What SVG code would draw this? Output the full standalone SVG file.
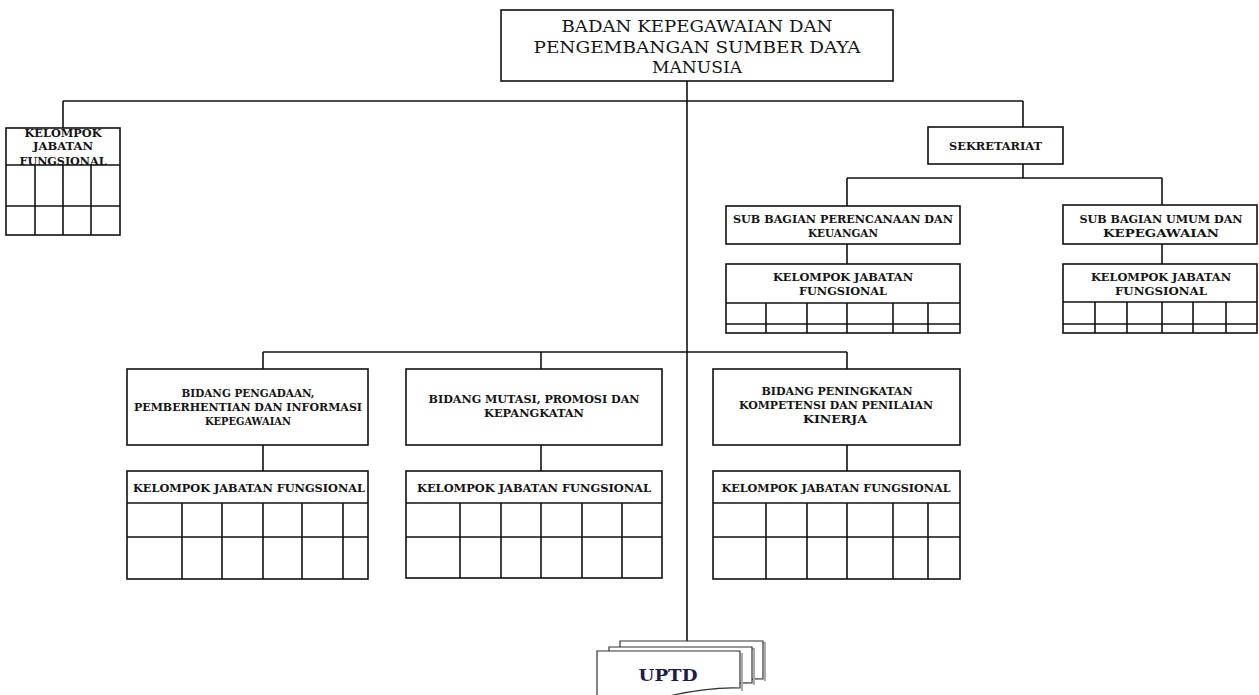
<svg xmlns="http://www.w3.org/2000/svg" width="1259" height="695" viewBox="0 0 1259 695">
<style>
.bx{fill:#fff;stroke:#111;stroke-width:1.6}
.ln{fill:none;stroke:#111;stroke-width:1.6}
.t{font-family:"DejaVu Serif","Liberation Serif",serif;fill:#151515;text-anchor:middle;lengthAdjust:spacingAndGlyphs}
.big{font-size:16.5px}
.sm{font-size:10.5px;font-weight:bold;letter-spacing:0}
.doc{fill:#fff;stroke:#333;stroke-width:1.2}
.sh{fill:none;stroke:#aaa;stroke-width:2}
</style>
<rect width="1259" height="695" fill="#fff"/>

<g id="connectors" class="ln">
  <line x1="687" y1="81" x2="687" y2="641"/>
  <line x1="63" y1="101" x2="1023" y2="101"/>
  <line x1="63" y1="101" x2="63" y2="128"/>
  <line x1="1023" y1="101" x2="1023" y2="127"/>
  <line x1="1023" y1="164" x2="1023" y2="178"/>
  <line x1="847" y1="178" x2="1162" y2="178"/>
  <line x1="847" y1="178" x2="847" y2="206"/>
  <line x1="1162" y1="178" x2="1162" y2="205"/>
  <line x1="847" y1="244" x2="847" y2="264"/>
  <line x1="1162" y1="244" x2="1162" y2="264"/>
  <line x1="263" y1="352" x2="847" y2="352"/>
  <line x1="263" y1="352" x2="263" y2="369"/>
  <line x1="541" y1="352" x2="541" y2="369"/>
  <line x1="847" y1="352" x2="847" y2="369"/>
  <line x1="263" y1="445" x2="263" y2="471"/>
  <line x1="541" y1="445" x2="541" y2="471"/>
  <line x1="847" y1="445" x2="847" y2="471"/>
</g>

<g id="badan">
  <rect class="bx" x="501" y="10" width="392" height="71"/>
  <text class="t big" x="697" y="32" textLength="271" lengthAdjust="spacingAndGlyphs">BADAN KEPEGAWAIAN DAN</text>
  <text class="t big" x="697" y="53" textLength="327" lengthAdjust="spacingAndGlyphs">PENGEMBANGAN SUMBER DAYA</text>
  <text class="t big" x="697" y="73" textLength="90" lengthAdjust="spacingAndGlyphs">MANUSIA</text>
</g>

<g id="kjf-left">
  <rect class="bx" x="6" y="128" width="114" height="107"/>
  <g class="ln">
    <line x1="6" y1="165" x2="120" y2="165"/>
    <line x1="6" y1="206" x2="120" y2="206"/>
    <line x1="35" y1="165" x2="35" y2="235"/>
    <line x1="63" y1="165" x2="63" y2="235"/>
    <line x1="91" y1="165" x2="91" y2="235"/>
  </g>
  <text class="t sm" x="63" y="137" textLength="77" lengthAdjust="spacingAndGlyphs">KELOMPOK</text>
  <text class="t sm" x="63" y="150" textLength="60" lengthAdjust="spacingAndGlyphs">JABATAN</text>
  <text class="t sm" x="63" y="165" textLength="87" lengthAdjust="spacingAndGlyphs">FUNGSIONAL</text>
</g>

<g id="sekretariat">
  <rect class="bx" x="928" y="127" width="135" height="37"/>
  <text class="t sm" x="995.5" y="150" textLength="93" lengthAdjust="spacingAndGlyphs">SEKRETARIAT</text>
</g>

<g id="sub-perencanaan">
  <rect class="bx" x="726" y="206" width="234" height="38"/>
  <text class="t sm" x="843" y="223" textLength="220" lengthAdjust="spacingAndGlyphs">SUB BAGIAN PERENCANAAN DAN</text>
  <text class="t sm" x="843" y="237" textLength="70" lengthAdjust="spacingAndGlyphs">KEUANGAN</text>
</g>

<g id="kjf-perencanaan">
  <rect class="bx" x="726" y="264" width="234" height="69"/>
  <g class="ln">
    <line x1="726" y1="303" x2="960" y2="303"/>
    <line x1="726" y1="324" x2="960" y2="324"/>
    <line x1="766" y1="303" x2="766" y2="333"/>
    <line x1="807" y1="303" x2="807" y2="333"/>
    <line x1="847" y1="303" x2="847" y2="333"/>
    <line x1="893" y1="303" x2="893" y2="333"/>
    <line x1="928" y1="303" x2="928" y2="333"/>
  </g>
  <text class="t sm" x="843" y="281" textLength="140" lengthAdjust="spacingAndGlyphs">KELOMPOK JABATAN</text>
  <text class="t sm" x="843" y="295" textLength="88" lengthAdjust="spacingAndGlyphs">FUNGSIONAL</text>
</g>

<g id="sub-umum">
  <rect class="bx" x="1063" y="205" width="194" height="39"/>
  <text class="t sm" x="1161" y="223" textLength="163" lengthAdjust="spacingAndGlyphs">SUB BAGIAN UMUM DAN</text>
  <text class="t sm" x="1161" y="237" textLength="116" lengthAdjust="spacingAndGlyphs">KEPEGAWAIAN</text>
</g>

<g id="kjf-umum">
  <rect class="bx" x="1063" y="264" width="194" height="69"/>
  <g class="ln">
    <line x1="1063" y1="302" x2="1257" y2="302"/>
    <line x1="1063" y1="324" x2="1257" y2="324"/>
    <line x1="1095" y1="302" x2="1095" y2="333"/>
    <line x1="1127" y1="302" x2="1127" y2="333"/>
    <line x1="1162" y1="302" x2="1162" y2="333"/>
    <line x1="1193" y1="302" x2="1193" y2="333"/>
    <line x1="1226" y1="302" x2="1226" y2="333"/>
  </g>
  <text class="t sm" x="1161" y="281" textLength="140" lengthAdjust="spacingAndGlyphs">KELOMPOK JABATAN</text>
  <text class="t sm" x="1161" y="295" textLength="92" lengthAdjust="spacingAndGlyphs">FUNGSIONAL</text>
</g>

<g id="bidang-pengadaan">
  <rect class="bx" x="127" y="369" width="241" height="76"/>
  <text class="t sm" x="248" y="397" textLength="133" lengthAdjust="spacingAndGlyphs">BIDANG PENGADAAN,</text>
  <text class="t sm" x="248" y="411" textLength="228" lengthAdjust="spacingAndGlyphs">PEMBERHENTIAN DAN INFORMASI</text>
  <text class="t sm" x="248" y="425" textLength="86" lengthAdjust="spacingAndGlyphs">KEPEGAWAIAN</text>
</g>

<g id="kjf-pengadaan">
  <rect class="bx" x="127" y="471" width="241" height="108"/>
  <g class="ln">
    <line x1="127" y1="503" x2="368" y2="503"/>
    <line x1="127" y1="537" x2="368" y2="537"/>
    <line x1="182" y1="503" x2="182" y2="579"/>
    <line x1="222" y1="503" x2="222" y2="579"/>
    <line x1="263" y1="503" x2="263" y2="579"/>
    <line x1="302" y1="503" x2="302" y2="579"/>
    <line x1="343" y1="503" x2="343" y2="579"/>
  </g>
  <text class="t sm" x="249" y="492" textLength="232" lengthAdjust="spacingAndGlyphs">KELOMPOK JABATAN FUNGSIONAL</text>
</g>

<g id="bidang-mutasi">
  <rect class="bx" x="406" y="369" width="256" height="76"/>
  <text class="t sm" x="534" y="403" textLength="211" lengthAdjust="spacingAndGlyphs">BIDANG MUTASI, PROMOSI DAN</text>
  <text class="t sm" x="534" y="417" textLength="100" lengthAdjust="spacingAndGlyphs">KEPANGKATAN</text>
</g>

<g id="kjf-mutasi">
  <rect class="bx" x="406" y="471" width="256" height="107"/>
  <g class="ln">
    <line x1="406" y1="503" x2="662" y2="503"/>
    <line x1="406" y1="537" x2="662" y2="537"/>
    <line x1="460" y1="503" x2="460" y2="578"/>
    <line x1="501" y1="503" x2="501" y2="578"/>
    <line x1="541" y1="503" x2="541" y2="578"/>
    <line x1="582" y1="503" x2="582" y2="578"/>
    <line x1="622" y1="503" x2="622" y2="578"/>
  </g>
  <text class="t sm" x="534" y="492" textLength="234" lengthAdjust="spacingAndGlyphs">KELOMPOK JABATAN FUNGSIONAL</text>
</g>

<g id="bidang-peningkatan">
  <rect class="bx" x="713" y="369" width="247" height="76"/>
  <text class="t sm" x="837" y="395" textLength="151" lengthAdjust="spacingAndGlyphs">BIDANG PENINGKATAN</text>
  <text class="t sm" x="836" y="409" textLength="194" lengthAdjust="spacingAndGlyphs">KOMPETENSI DAN PENILAIAN</text>
  <text class="t sm" x="835" y="423" textLength="64" lengthAdjust="spacingAndGlyphs">KINERJA</text>
</g>

<g id="kjf-peningkatan">
  <rect class="bx" x="713" y="471" width="247" height="108"/>
  <g class="ln">
    <line x1="713" y1="503" x2="960" y2="503"/>
    <line x1="713" y1="537" x2="960" y2="537"/>
    <line x1="766" y1="503" x2="766" y2="579"/>
    <line x1="807" y1="503" x2="807" y2="579"/>
    <line x1="847" y1="503" x2="847" y2="579"/>
    <line x1="893" y1="503" x2="893" y2="579"/>
    <line x1="928" y1="503" x2="928" y2="579"/>
  </g>
  <text class="t sm" x="836" y="492" textLength="229" lengthAdjust="spacingAndGlyphs">KELOMPOK JABATAN FUNGSIONAL</text>
</g>

<g id="uptd">
  <path class="sh" d="M622,643 H765 V681"/>
  <path class="doc" d="M620,700 V641 H763 V679 C740,678 715,682 690,688 C665,694 640,700 620,700 Z"/>
  <path class="sh" d="M611,649 H754 V685"/>
  <path class="doc" d="M609,705 V647 H752 V683 C728,682 703,687 678,693 C653,699 630,705 609,705 Z"/>
  <path class="sh" d="M742,653 V691"/>
  <path class="doc" d="M597,712 V651 H740 V688 C715,687 690,691 665,697 C640,703 618,710 597,712 Z"/>
  <text x="668" y="681" font-family="DejaVu Serif, Liberation Serif, serif" font-weight="bold" font-size="16.5" fill="#1b1b4d" text-anchor="middle" textLength="59" lengthAdjust="spacingAndGlyphs">UPTD</text>
</g>
</svg>
